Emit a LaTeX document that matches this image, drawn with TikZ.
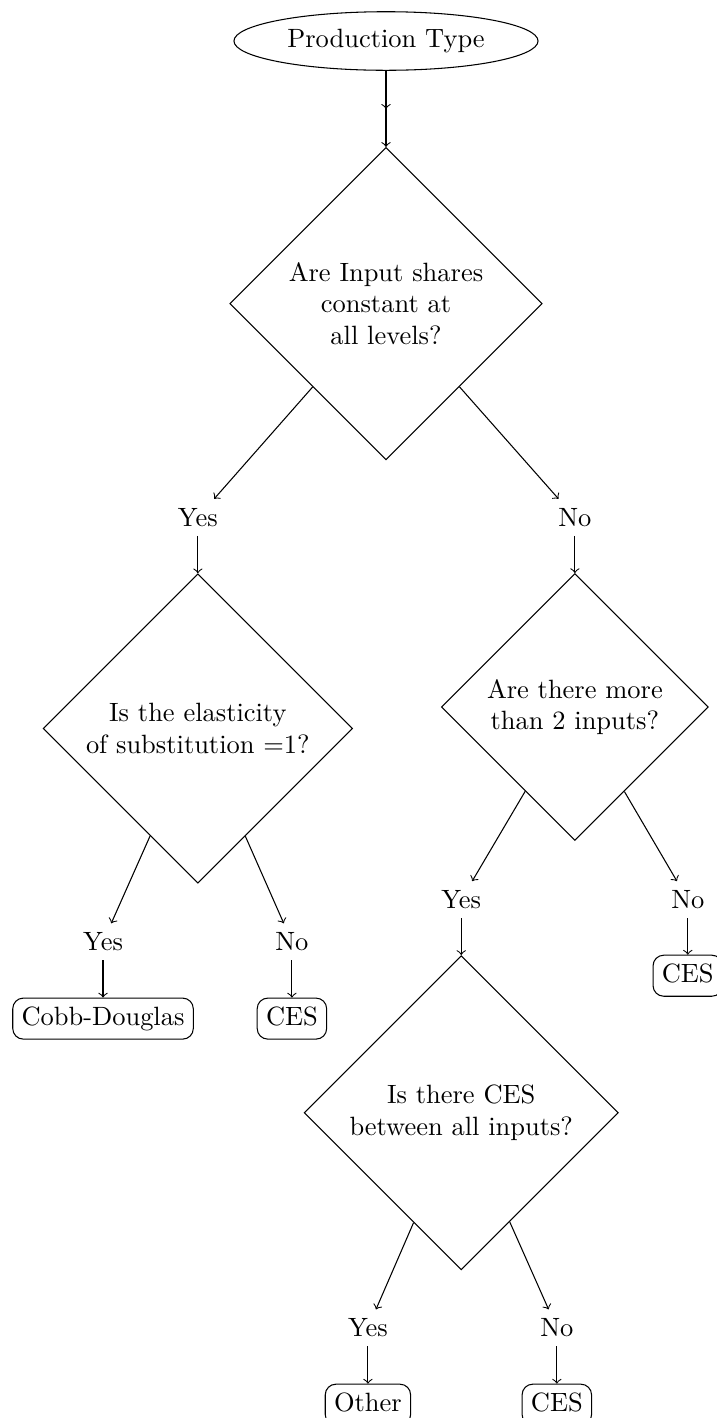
\documentclass[tikz,border=0pt]{standalone}
\usetikzlibrary{shapes.geometric,decorations.markings}
\begin{document}
\begin{tikzpicture}[
    start/.style={ellipse,draw},
    question/.style={diamond,draw,aspect=1,align=center},
    answer/.style={},
    result/.style={draw,rounded corners,text height=1.6ex,text depth=.45ex},
    midarrow/.style={postaction={decorate},decoration={markings,mark=at position 0.5 with {\arrow{>}}}}
]
    \useasboundingbox (-5.129,0.545) rectangle (4.398,-18.297);
    \node [start] (root) at (0,0) {Production Type};
    \node [question] (q1) at (0,-3.49) {Are Input shares\\constant at\\all levels?};
    \node [answer] (yes1) at (-2.5,-6.33) {Yes};
    \node [answer] (no1) at (2.51,-6.33) {No};
    \node [question] (q2) at (-2.5,-9.135) {Is the elasticity\\of substitution =1?};
    \node [question] (q3) at (2.51,-8.85) {Are there more\\than 2 inputs?};
    \node [answer] (yes2) at (-3.76,-11.97) {Yes};
    \node [answer] (no2) at (-1.25,-11.97) {No};
    \node [result] (cobb) at (-3.76,-12.99) {Cobb-Douglas};
    \node [result] (ces2) at (-1.25,-12.99) {CES};
    \node [answer] (yes3) at (1.0,-11.41) {Yes};
    \node [answer] (no3) at (4.01,-11.41) {No};
    \node [result] (ces3) at (4.01,-12.42) {CES};
    \node [question] (q4) at (1.0,-14.24) {Is there CES\\between all inputs?};
    \node [answer] (yes4) at (-0.24,-17.1) {Yes};
    \node [answer] (no4) at (2.27,-17.1) {No};
    \node [result] (other) at (-0.24,-18.12) {Other};
    \node [result] (ces4) at (2.27,-18.12) {CES};
    \draw [->,midarrow] (root) -- (q1);
    \draw [->] (q1) -- (yes1);
    \draw [->] (q1) -- (no1);
    \draw [->] (yes1) -- (q2);
    \draw [->] (no1) -- (q3);
    \draw [->] (q2) -- (yes2);
    \draw [->] (q2) -- (no2);
    \draw [->] (yes2) -- (cobb);
    \draw [->] (no2) -- (ces2);
    \draw [->] (q3) -- (yes3);
    \draw [->] (q3) -- (no3);
    \draw [->] (no3) -- (ces3);
    \draw [->] (yes3) -- (q4);
    \draw [->] (q4) -- (yes4);
    \draw [->] (q4) -- (no4);
    \draw [->] (yes4) -- (other);
    \draw [->] (no4) -- (ces4);
\end{tikzpicture}
\end{document}
